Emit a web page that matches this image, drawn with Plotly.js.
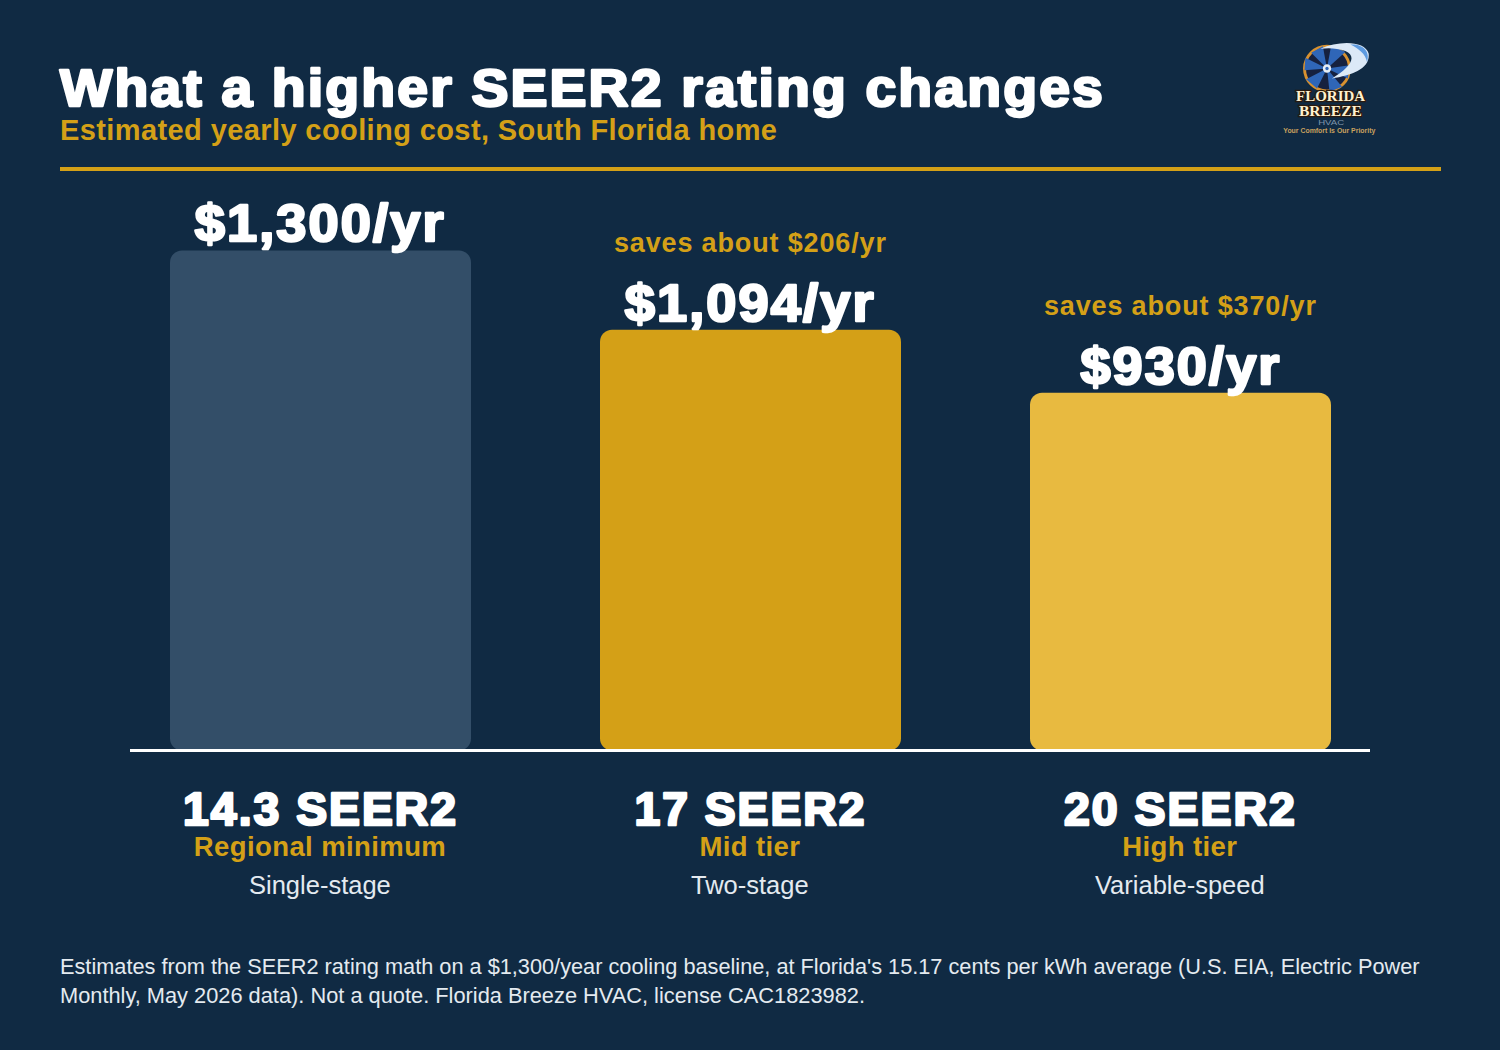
<!DOCTYPE html>
<html><head><meta charset="utf-8">
<script src="https://cdn.plot.ly/plotly-3.0.1.min.js"></script>
<style>html,body{margin:0;padding:0;background:#102A43}</style></head>
<body><div id="chart" style="width:1500px;height:1050px"></div>
<script>
const tiers = ["14.3 SEER2", "17 SEER2", "20 SEER2"];
const costs = [1300, 1094, 930];
const costLabels = ["$1,300/yr", "$1,094/yr", "$930/yr"];
const savings = ["", "saves about $206/yr", "saves about $370/yr"];
const tierNames = ["Regional minimum", "Mid tier", "High tier"];
const stages = ["Single-stage", "Two-stage", "Variable-speed"];
const barColors = ["#334E68", "#D4A017", "#E8BA40"];
const titleText = "What a higher SEER2 rating changes";
const subtitleText = "Estimated yearly cooling cost, South Florida home";
const footerLines = ["Estimates from the SEER2 rating math on a $1,300/year cooling baseline, at Florida's 15.17 cents per kWh average (U.S. EIA, Electric Power",
  "Monthly, May 2026 data). Not a quote. Florida Breeze HVAC, license CAC1823982."];

const GOLD = "#D4A017", WHITE = "#FFFFFF", PALE = "#E4EAF0", BG = "#102A43";
const FONT = "Liberation Sans, Arial, sans-serif";
const L = 130, R = 1370, T = 180, B = 749;
const ZERO_PX = 750.5, PX_PER_UNIT = 500/1300, CENTER0 = 320.5, STEP = 430;
const labelShifts = [-1, -2.5, -2.5];
const px = x => (x - L) / (R - L);
const py = y => (B - y) / (B - T);
const xs = tiers.map((_, i) => i);

const bars = {type:"bar", x:xs, base:costs.map(()=>0), y:costs, width:0.7,
  marker:{color:barColors, line:{width:0}}, hoverinfo:"skip", showlegend:false, cliponaxis:false};

const note = (text, cx, cy, size, color, bold, anchor) => ({
  text: bold ? "<b>"+text+"</b>" : text, xref:"paper", yref:"paper", x:px(cx), y:py(cy),
  xanchor:anchor||"center", yanchor:"middle", showarrow:false, borderpad:0, borderwidth:0, align:anchor||"center",
  font:{family:FONT, size:size, color:color}});

const annotations = [
  note(titleText, 60, 89, 51, WHITE, true, "left"),
  note(subtitleText, 60, 130, 29, GOLD, true, "left"),
  note(footerLines[0], 60, 966, 21.74, PALE, false, "left"),
  note(footerLines[1], 60, 996, 21.74, PALE, false, "left"),
];
xs.forEach(i => {
  annotations.push({text:"<b>"+costLabels[i]+"</b>", x:i, y:costs[i], xref:"x", yref:"y", xanchor:"center", yanchor:"bottom",
    yshift:labelShifts[i], showarrow:false, borderpad:0, borderwidth:0, font:{family:FONT,size:51,color:WHITE}});
  if (savings[i]) annotations.push({text:"<b>"+savings[i]+"</b>", x:i, y:costs[i], xref:"x", yref:"y", xanchor:"center", yanchor:"bottom",
    yshift:71.5, showarrow:false, borderpad:0, borderwidth:0, font:{family:FONT,size:27,color:GOLD}});
  const cx = 320 + STEP*i;
  annotations.push(note(tiers[i], cx, 809, 46, WHITE, true));
  annotations.push(note(tierNames[i], cx, 846.5, 27.5, GOLD, true));
  annotations.push(note(stages[i], cx, 885, 25.5, PALE, false));
});
// logo wordmark
const serif = "Liberation Serif, serif";
const logoWord = (t,y,s,c,f) => { const a = note(t,1330,y,s,c,true); if(f) a.font.family=f; return a; };
annotations.push(logoWord("FLORIDA",96,15,"#FFF1CF",serif));
annotations.push(logoWord("BREEZE",111,15,"#FFF1CF",serif));
annotations.push(note("HVAC",1331,122,7.5,"#7F95AB",false));
annotations.push(note("Your Comfort Is Our Priority",1329,131,6.5,"#C9A15E",true));

const logoSvg = `<svg xmlns="http://www.w3.org/2000/svg" width="90" height="70" viewBox="0 0 90 70">
<circle cx="36" cy="32" r="27" fill="#16213F" stroke="#D8912F" stroke-width="3.5"/>
<g fill="#2F66B8"><path d="M36 32 L17 13 L31 5 Z"/><path d="M36 32 L41 4 L58 12 Z"/><path d="M36 32 L63 28 L61 44 Z"/><path d="M36 32 L54 54 L39 60 Z"/><path d="M36 32 L24 56 L11 45 Z"/><path d="M36 32 L9 34 L10 19 Z"/></g>
<circle cx="36" cy="32" r="5" fill="#E8EEF6"/><circle cx="36" cy="32" r="2" fill="#2F66B8"/>
<path d="M28 8 C50 -2 82 -2 86 14 C88 32 66 40 42 44 C62 32 74 18 58 11 C48 7 38 7 28 8 Z" fill="#DCE9F7"/>
<path d="M64 3 C80 2 88 12 84 24 C82 14 74 8 64 3 Z" fill="#5E9BE0"/></svg>`;

const layout = {
  width:1500, height:1050, paper_bgcolor:BG, plot_bgcolor:BG, barmode:"overlay", barcornerradius:12,
  margin:{l:L, r:1500-R, t:T, b:1050-B, pad:0}, showlegend:false,
  xaxis:{range:[(L-CENTER0)/STEP,(R-CENTER0)/STEP], tickmode:"array", tickvals:[], showgrid:false, zeroline:false, showline:true, linecolor:WHITE, linewidth:3, fixedrange:true},
  yaxis:{range:[(ZERO_PX-B)/PX_PER_UNIT,(ZERO_PX-T)/PX_PER_UNIT], showticklabels:false, ticks:"", showgrid:false, zeroline:false, showline:false, fixedrange:true},
  shapes:[{type:"rect", xref:"paper", yref:"paper", x0:px(60), x1:px(1441), y0:py(167), y1:py(171), fillcolor:GOLD, line:{width:0}, layer:"above"}],
  images:[{source:"data:image/svg+xml;charset=utf-8,"+encodeURIComponent(logoSvg), xref:"paper", yref:"paper", x:px(1297), y:py(42), sizex:75/1240, sizey:58/569, sizing:"stretch", xanchor:"left", yanchor:"top", layer:"below"}],
  annotations
};
const heavyWidths = {[titleText]:1045, "$1,300/yr":251, "$1,094/yr":251, "$930/yr":201, "14.3 SEER2":275, "17 SEER2":232, "20 SEER2":233};
const fineWidths = {"FLORIDA":69, "BREEZE":63, "HVAC":26, "Your Comfort Is Our Priority":92, [footerLines[1]]:805};
Plotly.newPlot("chart",[bars],layout,{displayModeBar:false,staticPlot:true}).then(()=>{
  document.querySelectorAll(".annotation-text").forEach(t=>{
    const txt=t.textContent;
    const w=heavyWidths[txt]||fineWidths[txt];
    if(w){ t.setAttribute("textLength",w); t.setAttribute("lengthAdjust","spacingAndGlyphs"); }
    if(heavyWidths[txt]){ t.style.stroke=WHITE; t.style.strokeWidth="2.5px"; t.style.strokeLinejoin="round"; t.style.letterSpacing="2px"; }
    if(/^saves/.test(txt)) t.style.letterSpacing="0.85px";
    if(/Estimated|Regional|Mid tier|High tier/.test(txt)) t.style.letterSpacing="0.4px";
    if(/FLORIDA|BREEZE/.test(txt)){t.style.stroke="#2A1A10";t.style.strokeWidth="2.5px";t.style.paintOrder="stroke";}
  });
});
</script></body></html>
